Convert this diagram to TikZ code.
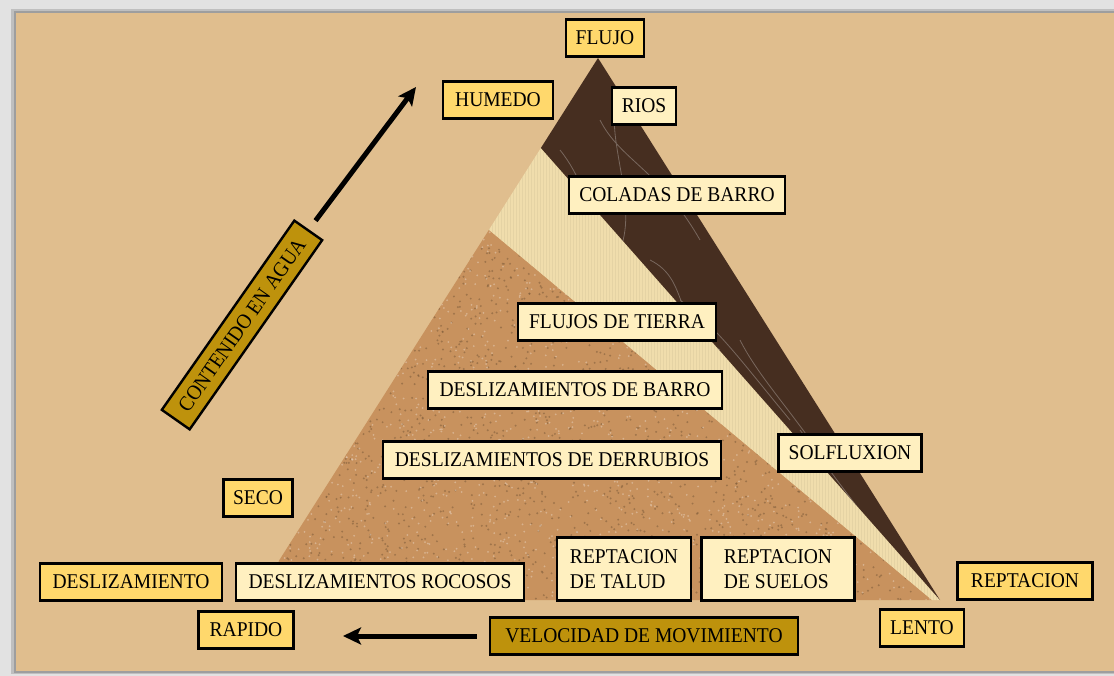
\documentclass[tikz,border=0pt]{standalone}
\usepackage{fontspec}
\setmainfont{Liberation Serif}[FakeStretch=0.93]
\usepackage{xcolor}
\usetikzlibrary{arrows.meta}
\usetikzlibrary{math, calc}
\definecolor{fondo}{RGB}{224,190,142}
\definecolor{marco}{RGB}{226,226,226}
\definecolor{marmol}{RGB}{70,46,32}
\definecolor{lino}{RGB}{240,221,172}
\definecolor{corcho}{RGB}{200,146,94}
\definecolor{claro}{RGB}{255,240,192}
\definecolor{amarillo}{RGB}{255,216,108}
\definecolor{oro}{RGB}{190,146,12}

\tikzset{
  caja/.style={draw=black, line width=2.4pt, inner sep=0pt, minimum height=37pt,
    font=\fontsize{21}{25}\selectfont},
  lcaja/.style={caja, fill=claro},
  ycaja/.style={caja, fill=amarillo},
  gcaja/.style={caja, fill=oro},
  flecha/.style={line width=5pt, -{Stealth[length=18pt,width=17pt,inset=4pt]}},
}

\begin{document}
\begin{tikzpicture}[x=1pt,y=-1pt]
\tikzmath{
\xa=254; \xb=940; \yb=600;
\xt=598; \yt=58;
}
\useasboundingbox (0,0) rectangle (1114,676);
\fill[marco] (0,0) rectangle (1114,676);
\fill[black!25] (11,9) rectangle (1114,674);
\fill[black!38] (14,11) rectangle (1114,673);
\fill[fondo] (16,13) rectangle (1114,671);

% triangulo
\coordinate (A) at (\xa,\yb);
\coordinate (B) at (\xb,\yb);
\coordinate (T) at (\xt,\yt);
\coordinate (M1) at ($(T)!0.166!(A)$);
\coordinate (M2) at ($(T)!0.317!(A)$);
\coordinate (B2) at (932,\yb);

\fill[corcho] (M2) -- (A) -- (B2) -- cycle;
\begin{scope}
\clip (M2) -- (A) -- (B2) -- cycle;
\pgfmathsetseed{7}
\foreach \i in {1,...,2600}{
  \pgfmathsetmacro{\px}{254+rnd*680}
  \pgfmathsetmacro{\py}{230+rnd*370}
  \fill[corcho!60!black, opacity=0.5] (\px,\py) circle[radius=1.1pt];
}
\foreach \i in {1,...,2000}{
  \pgfmathsetmacro{\px}{254+rnd*680}
  \pgfmathsetmacro{\py}{230+rnd*370}
  \fill[corcho!45!white, opacity=0.55] (\px,\py) circle[radius=1pt];
}
\end{scope}

\fill[lino] (M1) -- (M2) -- (B2) -- (B) -- cycle;
\begin{scope}
\clip (M1) -- (M2) -- (B2) -- (B) -- cycle;
\draw[lino!85!black, line width=0.3pt, opacity=0.3, step=3] (480,140) grid (945,605);
\end{scope}

\fill[marmol] (T) -- (M1) -- (B) -- cycle;
\begin{scope}
\clip (T) -- (M1) -- (B) -- cycle;
\draw[marmol!50!white, line width=0.8pt, opacity=0.55]
  (560,150) .. controls (600,200) and (590,260) .. (640,300)
  (600,120) .. controls (620,160) and (660,170) .. (700,240)
  (620,90) .. controls (600,130) and (640,200) .. (620,250)
  (650,260) .. controls (690,280) and (670,320) .. (720,350)
  (680,300) .. controls (720,330) and (740,360) .. (790,420)
  (740,340) .. controls (760,380) and (800,420) .. (830,470)
  (800,430) .. controls (830,470) and (850,500) .. (900,560);
\end{scope}

% cajas
\node[ycaja, minimum width=78pt] (flujo) at (605,38) {FLUJO};
\node[ycaja, minimum width=110pt] (humedo) at (498,100) {HUMEDO};
\node[lcaja, minimum width=64pt] (rios) at (644,106) {RIOS};
\node[lcaja, minimum width=216pt] (coladas) at (677,195) {COLADAS DE BARRO};
\node[lcaja, minimum width=198pt] (flujos) at (617,322) {FLUJOS DE TIERRA};
\node[lcaja, minimum width=294pt] (dbarro) at (575,390) {DESLIZAMIENTOS DE BARRO};
\node[lcaja, minimum width=338pt] (dderr) at (552,460) {DESLIZAMIENTOS DE DERRUBIOS};
\node[lcaja, minimum width=143pt] (solf) at (850,453) {SOLFLUXION};
\node[ycaja, minimum width=69pt] (seco) at (258,498) {SECO};
\node[ycaja, minimum width=182pt] (desl) at (131,582) {DESLIZAMIENTO};
\node[lcaja, minimum width=288pt] (rocosos) at (380,582) {DESLIZAMIENTOS ROCOSOS};
\node[lcaja, minimum width=134pt, minimum height=63pt, align=left] (talud) at (624,569) {REPTACION\\DE TALUD};
\node[lcaja, minimum width=153pt, minimum height=63pt, align=left] (suelos) at (778,569) {REPTACION\\DE SUELOS};
\node[ycaja, minimum width=135pt] (reptacion) at (1025,581) {REPTACION};
\node[ycaja, minimum width=95pt] (rapido) at (246,630) {RAPIDO};
\node[gcaja, minimum width=308pt] (velocidad) at (644,636) {VELOCIDAD DE MOVIMIENTO};
\node[ycaja, minimum width=84pt] (lento) at (922,628) {LENTO};
\node[gcaja, minimum width=231pt, minimum height=34pt, rotate=55] (contenido) at (242,325) {CONTENIDO EN AGUA};

% flechas
\coordinate (humArrow) at (416,87);
\coordinate (rapArrow) at (343,636);
\draw[flecha, shorten <=11pt] (contenido.east) -- (humArrow);
\draw[flecha, shorten <=12pt] (velocidad.west) -- (rapArrow);

\end{tikzpicture}
\end{document}
